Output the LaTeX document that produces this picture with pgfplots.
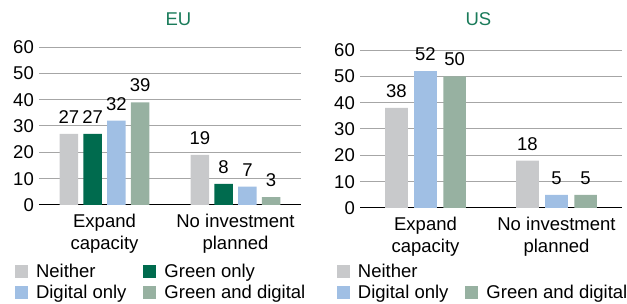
\documentclass[border=0pt]{standalone}
\usepackage{fontspec}
\setmainfont{Liberation Sans}
\usepackage{pgfplots}
\pgfplotsset{compat=1.18}
\definecolor{cNeither}{HTML}{C8C9CB}
\definecolor{cGreen}{HTML}{006B4E}
\definecolor{cDigital}{HTML}{A0BFE4}
\definecolor{cGD}{HTML}{97B1A1}
\definecolor{cTitle}{HTML}{1A7B5A}
\definecolor{cGrid}{HTML}{A6A6A6}
\newcommand{\ff}{\fontsize{18.5}{21.5}\selectfont}
\pgfplotsset{
  legsq/.style={legend image code/.code={\fill[##1] (0pt,-6.5pt) rectangle (13pt,6.5pt);}},
  panel/.style={
    scale only axis, width=262pt, height=158pt,
    ymin=0, ymax=60, ytick={0,10,...,60},
    xmin=-0.5, xmax=1.5, xtick={0,1},
    xticklabels={Expand\\capacity, No investment\\planned},
    axis x line*=bottom, axis y line*=left,
    y axis line style={draw=none},
    x axis line style={black, line width=1pt},
    ymajorgrids, major grid style={cGrid, line width=1pt},
    major tick length=0pt,
    tick label style={font=\ff},
    yticklabel style={inner sep=0pt, xshift=-5pt},
    xticklabel style={inner sep=0pt, align=center, yshift=-9pt},
    /pgf/number format/assume math mode=true,
    ybar,
    nodes near coords,
    every node near coord/.append style={font=\ff, inner sep=0pt, anchor=south, yshift=10pt, text=black},
    legend cell align=left, legend columns=2,
    legend style={draw=none, fill=none, inner sep=0pt, outer sep=0pt, anchor=north west,
      row sep=4pt, font=\ff,
      nodes={inner sep=0pt, text height=15pt, text depth=2pt},
      /tikz/every odd column/.append style={column sep=8pt},
      /tikz/every even column/.append style={column sep=17pt}},
    every axis title shift=0pt,
    title style={font=\ff, text=cTitle, anchor=base, inner sep=0pt, yshift=0pt},
  }
}
\begin{document}
\begin{tikzpicture}
\useasboundingbox (0,0) rectangle (627pt,304pt);
% EU panel
\begin{axis}[panel, at={(39pt,99pt)}, anchor=south west, bar width=18.5pt,
  title={EU}, title style={at={(rel axis cs:0.532,1.133)}},
  legend style={at={(rel axis cs:-0.0916,-0.364)}}]
\addplot[fill=cNeither, draw=none, bar shift=-35.6pt, legsq] coordinates {(0,27) (1,19)};
\addlegendentry{Neither}
\addplot[fill=cGreen, draw=none, bar shift=-11.9pt, legsq] coordinates {(0,27) (1,8)};
\addlegendentry{Green only}
\addplot[fill=cDigital, draw=none, bar shift=11.9pt, legsq] coordinates {(0,32) (1,7)};
\addlegendentry{Digital only}
\addplot[fill=cGD, draw=none, bar shift=35.6pt, legsq] coordinates {(0,39) (1,3)};
\addlegendentry{Green and digital}
\end{axis}
% US panel
\begin{axis}[panel, at={(360pt,96pt)}, anchor=south west, bar width=22.7pt,
  title={US}, title style={at={(rel axis cs:0.452,1.152)}},
  legend style={at={(rel axis cs:-0.0878,-0.345)}}]
\addplot[fill=cNeither, draw=none, bar shift=-29.1pt, legsq] coordinates {(0,38) (1,18)};
\addlegendentry{Neither}
\addlegendimage{empty legend}
\addlegendentry{}
\addplot[fill=cDigital, draw=none, bar shift=0pt, legsq] coordinates {(0,52) (1,5)};
\addlegendentry{Digital only}
\addplot[fill=cGD, draw=none, bar shift=29.1pt, legsq] coordinates {(0,50) (1,5)};
\addlegendentry{Green and digital}
\end{axis}
\end{tikzpicture}
\end{document}
